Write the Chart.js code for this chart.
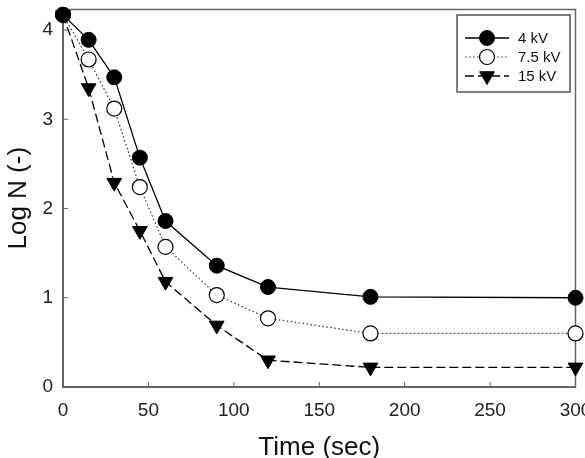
<!DOCTYPE html>
<html>
<head>
<meta charset="utf-8">
<script src="https://cdn.jsdelivr.net/npm/chart.js@4.4.1/dist/chart.umd.min.js"></script>
<style>
  html, body { margin: 0; padding: 0; background: #fff; }
  #wrap { width: 585px; height: 458px; position: relative; }
</style>
</head>
<body>
<div id="wrap"><canvas id="c" width="585" height="458"></canvas></div>
<script>
// Data
const timeSec = [0, 15, 30, 45, 60, 90, 120, 180, 300];
const logN_4kV   = [4.17, 3.89, 3.47, 2.57, 1.86, 1.36, 1.12, 1.01, 1.00];
const logN_7_5kV = [4.17, 3.67, 3.12, 2.24, 1.57, 1.03, 0.77, 0.60, 0.60];
const logN_15kV  = [4.17, 3.35, 2.29, 1.75, 1.18, 0.69, 0.30, 0.22, 0.22];
const seriesLabels = ['4 kV', '7.5 kV', '15 kV'];
const xTickStep = 50;
const yTicks = [0, 1, 2, 3, 4];

const toPts = (ys) => timeSec.map((t, i) => ({ x: t, y: ys[i] }));

const AXIS_COLOR = '#666';
const FONT_FAMILY = '"Liberation Sans", Arial, sans-serif';

const framePlugin = {
  id: 'frame',
  beforeDatasetsDraw(chart) {
    const { ctx, chartArea: a, scales } = chart;
    ctx.save();
    ctx.strokeStyle = AXIS_COLOR;
    ctx.lineWidth = 1.5;
    ctx.beginPath();
    ctx.moveTo(a.left, a.top);
    ctx.lineTo(a.right, a.top);
    ctx.lineTo(a.right, a.bottom);
    ctx.stroke();
    ctx.lineWidth = 1;
    ctx.beginPath();
    scales.x.ticks.forEach(t => {
      const px = scales.x.getPixelForValue(t.value);
      if (t.value > scales.x.min && t.value < scales.x.max) {
        ctx.moveTo(px, a.bottom);
        ctx.lineTo(px, a.bottom - 5);
      }
    });
    scales.y.ticks.forEach(t => {
      const py = scales.y.getPixelForValue(t.value);
      if (t.value > scales.y.min) {
        ctx.moveTo(a.left, py);
        ctx.lineTo(a.left + 5, py);
      }
    });
    ctx.stroke();
    ctx.restore();
  }
};

const legendPlugin = {
  id: 'customLegend',
  afterDraw(chart) {
    const ctx = chart.ctx;
    const bx = 457, by = 15, bw = 113, bh = 77;
    ctx.save();
    ctx.fillStyle = '#fff';
    ctx.fillRect(bx, by, bw, bh);
    ctx.strokeStyle = '#555';
    ctx.lineWidth = 1.5;
    ctx.strokeRect(bx, by, bw, bh);
    chart.data.datasets.forEach((ds, i) => {
      const y = by + 23 + i * 19;
      const x0 = bx + 8, x1 = bx + 52, xm = (x0 + x1) / 2;
      ctx.strokeStyle = ds.borderColor;
      ctx.lineWidth = ds.borderWidth;
      ctx.setLineDash(ds.borderDash || []);
      ctx.beginPath();
      ctx.moveTo(x0, y);
      ctx.lineTo(x1, y);
      ctx.stroke();
      ctx.setLineDash([]);
      ctx.fillStyle = ds.pointBackgroundColor;
      ctx.strokeStyle = ds.pointBorderColor;
      ctx.lineWidth = ds.pointBorderWidth;
      Chart.helpers.drawPoint(ctx, {
        pointStyle: ds.pointStyle,
        radius: ds.pointRadius,
        rotation: ds.pointRotation || 0,
        borderWidth: ds.pointBorderWidth
      }, xm, y);
      ctx.fillStyle = '#111';
      ctx.font = '15px ' + FONT_FAMILY;
      ctx.textBaseline = 'middle';
      ctx.textAlign = 'left';
      ctx.fillText(ds.label, bx + 61, y + 1);
    });
    ctx.restore();
  }
};

const tickFont = { family: FONT_FAMILY, size: 19 };

new Chart(document.getElementById('c'), {
  type: 'line',
  data: {
    datasets: [
      {
        label: seriesLabels[0],
        data: toPts(logN_4kV),
        borderColor: '#000',
        borderWidth: 1.3,
        pointStyle: 'circle',
        pointRadius: 7.5,
        pointBackgroundColor: '#000',
        pointBorderColor: '#000',
        pointBorderWidth: 1,
        clip: false,
        tension: 0
      },
      {
        label: seriesLabels[1],
        data: toPts(logN_7_5kV),
        borderColor: '#333',
        borderWidth: 1.2,
        borderDash: [1.5, 2.5],
        pointStyle: 'circle',
        pointRadius: 7.5,
        pointBackgroundColor: '#fff',
        pointBorderColor: '#000',
        pointBorderWidth: 1.2,
        clip: false,
        tension: 0
      },
      {
        label: seriesLabels[2],
        data: toPts(logN_15kV),
        borderColor: '#000',
        borderWidth: 1.3,
        borderDash: [9, 4],
        pointStyle: 'triangle',
        pointRotation: 180,
        pointRadius: 8.5,
        pointBackgroundColor: '#000',
        pointBorderColor: '#000',
        pointBorderWidth: 1,
        clip: false,
        tension: 0
      }
    ]
  },
  options: {
    responsive: false,
    animation: false,
    devicePixelRatio: 1,
    layout: { padding: { left: 0, right: 7, top: 8, bottom: 0 } },
    plugins: {
      legend: { display: false },
      tooltip: { enabled: false }
    },
    scales: {
      x: {
        type: 'linear',
        min: 0,
        max: 300,
        grid: { display: false, drawTicks: false },
        border: { display: true, color: AXIS_COLOR, width: 2 },
        ticks: {
          stepSize: xTickStep,
          autoSkip: false,
          maxRotation: 0,
          padding: 12,
          color: '#222',
          font: tickFont
        },
        title: {
          display: true,
          text: 'Time (sec)',
          color: '#111',
          font: { family: FONT_FAMILY, size: 26, lineHeight: 0.8 },
          padding: { top: 0, bottom: 0 }
        },
        afterFit(scale) {
          scale.height = 71;
          scale.paddingLeft = 0;
          scale.paddingRight = 0;
        }
      },
      y: {
        type: 'linear',
        min: 0,
        max: 4.23,
        grid: { display: false, drawTicks: false },
        border: { display: true, color: AXIS_COLOR, width: 2 },
        ticks: {
          stepSize: 1,
          padding: 10,
          color: '#222',
          font: tickFont
        },
        afterBuildTicks(scale) {
          scale.ticks = yTicks.map(v => ({ value: v }));
        },
        title: {
          display: true,
          text: 'Log N (-)',
          color: '#111',
          font: { family: FONT_FAMILY, size: 26, lineHeight: 0.8 },
          padding: { top: 8.5, bottom: 0 }
        },
        afterFit(scale) {
          scale.width = 63;
          scale.paddingTop = 0;
          scale.paddingBottom = 0;
        }
      }
    }
  },
  plugins: [framePlugin, legendPlugin]
});
</script>
</body>
</html>
